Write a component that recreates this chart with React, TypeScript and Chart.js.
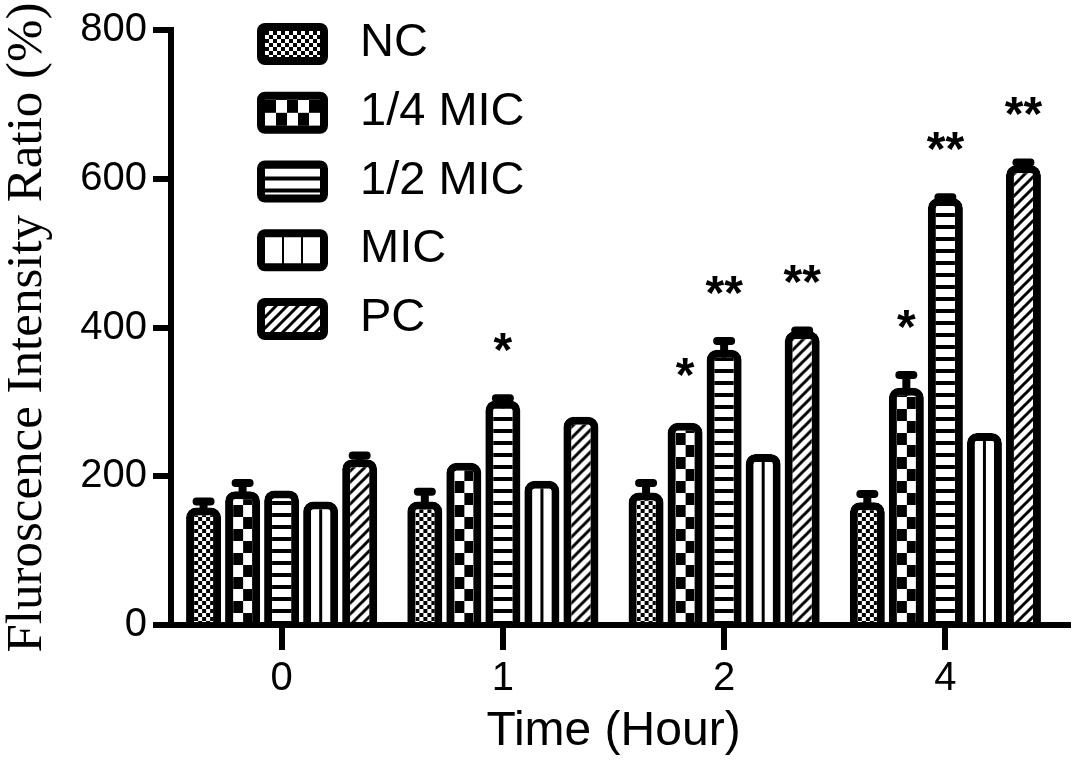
import React, { useEffect, useRef } from 'react';
import { Chart, registerables } from 'chart.js';
import type { Plugin } from 'chart.js';

Chart.register(...registerables);

const SANS = "'Liberation Sans', Arial, Helvetica, sans-serif";
const SERIF = "'Liberation Serif', 'Times New Roman', serif";

// categories and series
const timeLabels = ['0', '1', '2', '4'];
const seriesNames = ['NC', '1/4 MIC', '1/2 MIC', 'MIC', 'PC'];
const yTicks = [0, 200, 400, 600, 800];

// mean values (%)
const ncValues = [158, 166, 178, 165];
const quarterMicValues = [180, 218, 272, 319];
const halfMicValues = [181, 302, 370, 574];
const micValues = [166, 194, 230, 258];
const pcValues = [223, 280, 395, 618];

// upper error (%)
const ncErrors = [8, 13, 13, 11];
const quarterMicErrors = [11, 0, 0, 17];
const halfMicErrors = [0, 3, 12, 1];
const micErrors = [0, 0, 0, 0];
const pcErrors = [5, 0, 1, 4];

// significance marks
const ncMarks = ['', '', '', ''];
const quarterMicMarks = ['', '', '*', '*'];
const halfMicMarks = ['', '*', '**', '**'];
const micMarks = ['', '', '', ''];
const pcMarks = ['', '', '**', '**'];

const seriesValues = [ncValues, quarterMicValues, halfMicValues, micValues, pcValues];
const seriesErrors = [ncErrors, quarterMicErrors, halfMicErrors, micErrors, pcErrors];
const seriesMarks = [ncMarks, quarterMicMarks, halfMicMarks, micMarks, pcMarks];
const seriesFills = ['fineCheck', 'bigCheck', 'hLines', 'vLines', 'diagonal'];

const BAR_BORDER = 8;

// small black/white tiles used as hatch fills
const makeTile = (kind: string, legend: boolean): HTMLCanvasElement => {
  const c = document.createElement('canvas');
  let w = 8;
  let h = 8;
  if (kind === 'bigCheck') {
    w = legend ? 22 : 19;
    h = legend ? 26 : 24;
  } else if (kind === 'hLines') {
    w = 12;
    h = 12;
  } else if (kind === 'vLines') {
    w = 19;
    h = 4;
  } else if (kind === 'diagonal') {
    w = 11;
    h = 11;
  }
  c.width = w;
  c.height = h;
  const g = c.getContext('2d')!;
  g.fillStyle = '#fff';
  g.fillRect(0, 0, w, h);
  g.fillStyle = '#000';
  g.strokeStyle = '#000';
  if (kind === 'fineCheck') {
    g.fillRect(0, 0, 4, 4);
    g.fillRect(4, 4, 4, 4);
  } else if (kind === 'bigCheck') {
    const hw = Math.round(w / 2);
    g.fillRect(0, 0, hw, h / 2);
    g.fillRect(hw, h / 2, w - hw, h / 2);
  } else if (kind === 'hLines') {
    g.fillRect(0, 8, 12, 4);
  } else if (kind === 'vLines') {
    g.fillRect(legend ? 17 : 8, 0, 3, 4);
  } else if (kind === 'diagonal') {
    g.lineWidth = 3;
    g.beginPath();
    g.moveTo(-3, 3);
    g.lineTo(3, -3);
    g.moveTo(-3, h + 3);
    g.lineTo(w + 3, -3);
    g.moveTo(w - 3, h + 3);
    g.lineTo(w + 3, h - 3);
    g.stroke();
  }
  return c;
};

const App: React.FC = () => {
  const canvasRef = useRef<HTMLCanvasElement>(null);

  useEffect(() => {
    const canvas = canvasRef.current;
    if (!canvas) return;
    const ctx = canvas.getContext('2d');
    if (!ctx) return;

    const legendPatterns = seriesFills.map((k) => ctx.createPattern(makeTile(k, true), 'repeat') as CanvasPattern);

    // keep each bar's hatch anchored to its own inner edge
    const alignPatterns: Plugin = {
      id: 'alignPatterns',
      beforeDatasetsDraw(chart) {
        const area = chart.chartArea;
        chart.data.datasets.forEach((ds, i) => {
          const fills = ds.backgroundColor as CanvasPattern[];
          chart.getDatasetMeta(i).data.forEach((el: any, j) => {
            const p = fills[j];
            if (p && typeof p.setTransform === 'function') {
              const left = el.x - el.width / 2 + BAR_BORDER;
              p.setTransform(new DOMMatrix().translateSelf(left, area.bottom));
            }
          });
        });
      },
    };

    const errorBars: Plugin = {
      id: 'errorBars',
      afterDatasetsDraw(chart) {
        const c = chart.ctx;
        const y = chart.scales.y;
        c.save();
        c.strokeStyle = '#000';
        c.fillStyle = '#000';
        c.lineWidth = 8;
        c.lineCap = 'round';
        chart.data.datasets.forEach((ds, i) => {
          const errs = seriesErrors[i];
          const marks = seriesMarks[i];
          chart.getDatasetMeta(i).data.forEach((el: any, j) => {
            const v = ds.data[j] as number;
            const top = y.getPixelForValue(v + errs[j]);
            if (errs[j] > 0) {
              c.beginPath();
              c.moveTo(el.x, el.y + 4);
              c.lineTo(el.x, top);
              c.moveTo(el.x - 7, top);
              c.lineTo(el.x + 7, top);
              c.stroke();
            }
            if (marks[j]) {
              c.font = `bold 48px ${SANS}`;
              c.textAlign = 'center';
              c.textBaseline = 'alphabetic';
              c.fillText(marks[j], el.x, top - 32);
            }
          });
        });
        c.restore();
      },
    };

    const patternLegend: Plugin = {
      id: 'patternLegend',
      afterDraw(chart) {
        const c = chart.ctx;
        const area = chart.chartArea;
        c.save();
        // axis runs a little past the last group
        c.strokeStyle = '#000';
        c.lineWidth = 6;
        c.beginPath();
        c.moveTo(area.right - 2, area.bottom);
        c.lineTo(area.right + 15, area.bottom);
        c.stroke();

        const left = area.left + 86;
        seriesNames.forEach((name, i) => {
          const top = area.top - 7 + i * 68.75;
          c.fillStyle = '#000';
          c.beginPath();
          c.roundRect(left, top, 71, 42, 8);
          c.fill();
          const p = legendPatterns[i];
          p.setTransform(new DOMMatrix().translateSelf(left + 8, top + 8));
          c.fillStyle = p;
          c.fillRect(left + 8, top + 8, 55, 26);
          c.fillStyle = '#000';
          c.font = `47px ${SANS}`;
          c.textAlign = 'left';
          c.textBaseline = 'alphabetic';
          c.fillText(name, left + 103, top + 33);
        });
        c.restore();
      },
    };

    const chart = new Chart(ctx, {
      type: 'bar',
      data: {
        labels: timeLabels,
        datasets: seriesNames.map((name, i) => ({
          label: name,
          data: seriesValues[i],
          backgroundColor: timeLabels.map(
            () => ctx.createPattern(makeTile(seriesFills[i], false), 'repeat') as CanvasPattern
          ),
          borderColor: '#000',
          borderWidth: BAR_BORDER,
          borderRadius: 10,
          borderSkipped: 'start',
          categoryPercentage: 0.882,
          barPercentage: 0.897,
        })),
      },
      options: {
        responsive: false,
        animation: false,
        events: [],
        layout: { padding: { left: 0, top: 27, right: 21, bottom: 0 } },
        plugins: {
          legend: { display: false },
          tooltip: { enabled: false },
        },
        scales: {
          x: {
            type: 'category',
            offset: true,
            z: 1,
            grid: {
              display: true,
              offset: false,
              drawOnChartArea: false,
              drawTicks: true,
              tickLength: 25,
              tickWidth: 6,
              tickColor: '#000',
              color: '#000',
              lineWidth: 6,
            },
            border: { display: true, color: '#000', width: 6 },
            ticks: {
              color: '#000',
              font: { family: SANS, size: 40 },
              padding: 5,
              maxRotation: 0,
              autoSkip: false,
            },
            title: {
              display: true,
              text: 'Time (Hour)',
              color: '#000',
              font: { family: SANS, size: 48, lineHeight: 1.2 },
              padding: { top: 0, bottom: 12 },
            },
            afterFit: (s: any) => {
              s.height = 148;
            },
          },
          y: {
            type: 'linear',
            min: 0,
            max: 800,
            z: 1,
            grid: {
              drawOnChartArea: false,
              drawTicks: true,
              tickLength: 18,
              tickWidth: 6,
              tickColor: '#000',
              color: '#000',
              lineWidth: 6,
            },
            border: { display: true, color: '#000', width: 6 },
            ticks: {
              color: '#000',
              font: { family: SANS, size: 40 },
              padding: 6,
            },
            afterBuildTicks: (s: any) => {
              s.ticks = yTicks.map((v) => ({ value: v }));
            },
            title: {
              display: true,
              text: 'Fluroscence Intensity Ratio (%)',
              color: '#000',
              font: { family: SERIF, size: 51, lineHeight: 1.08 },
              padding: 0,
            },
            afterFit: (s: any) => {
              s.width = 171;
            },
          },
        },
      },
      plugins: [alignPatterns, errorBars, patternLegend],
    });

    return () => {
      chart.destroy();
    };
  }, []);

  return (
    <div style={{ position: 'absolute', left: 0, top: 0, width: 1077, height: 773, background: '#fff' }}>
      <canvas ref={canvasRef} width={1077} height={773} style={{ display: 'block' }} />
    </div>
  );
};

export default App;
